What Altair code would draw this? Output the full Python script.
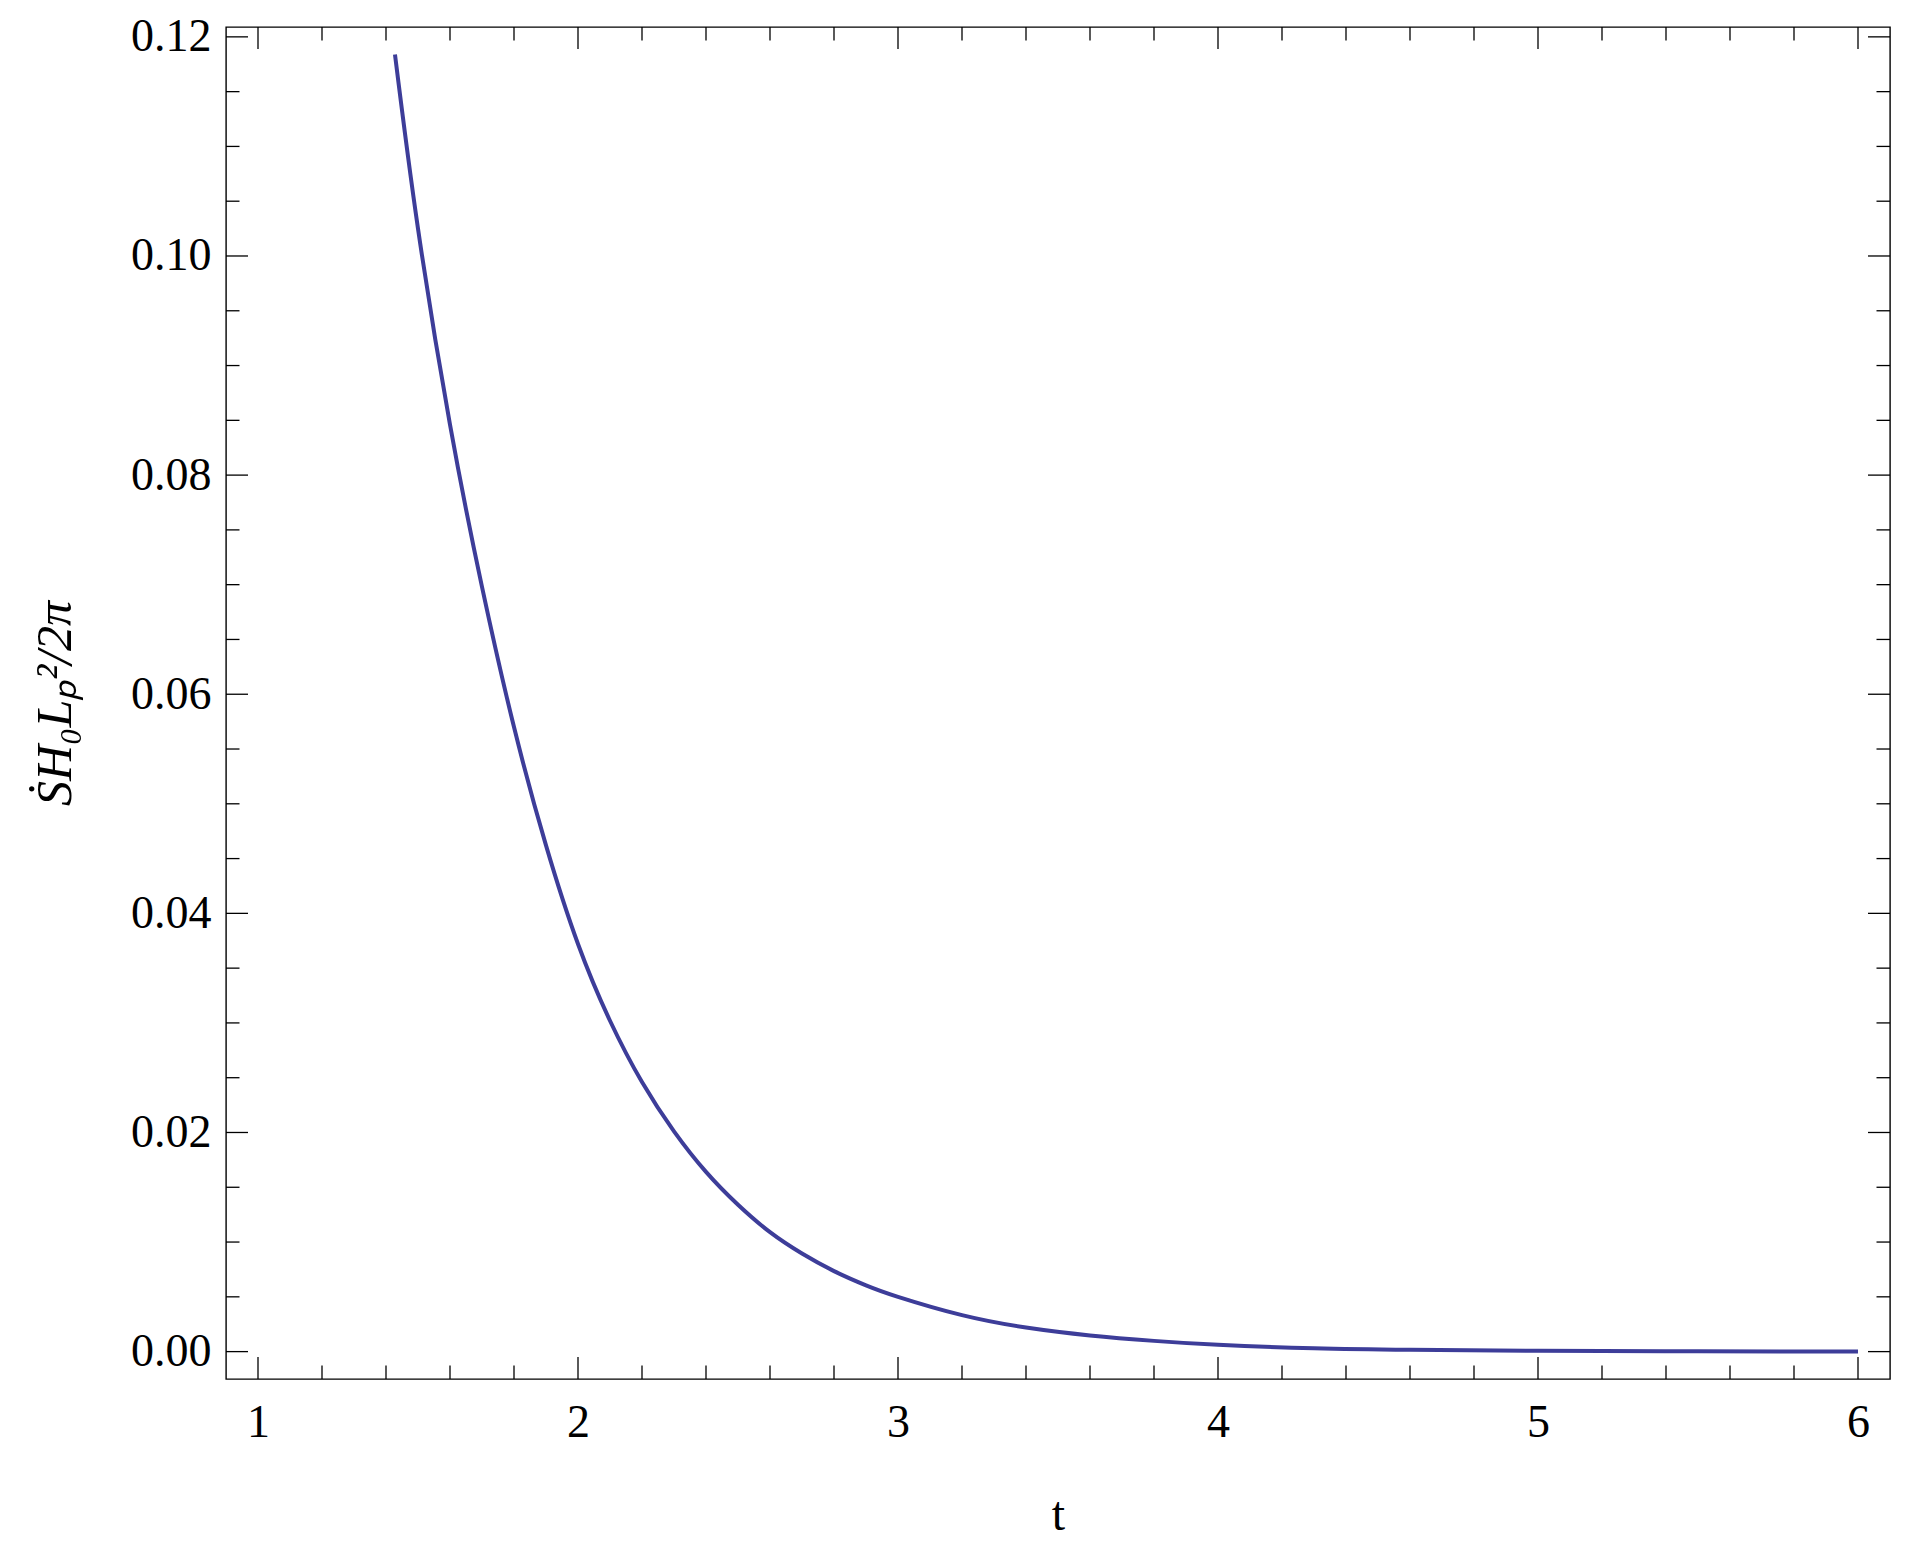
import altair as alt
import pandas as pd

# curve
t_vals = [1.428, 1.50, 1.60, 1.70, 1.80, 1.90, 2.00, 2.10, 2.20, 2.30, 2.40, 2.50,
          2.60, 2.70, 2.80, 2.90, 3.00, 3.20, 3.40, 3.60, 3.80, 4.00, 4.30, 4.60,
          5.00, 5.50, 6.00]
s_vals = [0.1184, 0.1025, 0.0846, 0.0698, 0.0570, 0.0462, 0.0372, 0.0302, 0.0246,
          0.0201, 0.0164, 0.0134, 0.0109, 0.00895, 0.00735, 0.00605, 0.00500,
          0.00333, 0.00220, 0.00148, 0.00098, 0.00062, 0.00031, 0.00017,
          0.00008, 0.00003, 0.00001]

x_major = [1, 2, 3, 4, 5, 6]
x_minor = [round(1 + 0.2 * i, 1) for i in range(26) if i % 5 != 0]
y_major = [0.0, 0.02, 0.04, 0.06, 0.08, 0.10, 0.12]
y_minor = [round(0.005 * i, 3) for i in range(25) if i % 4 != 0]

W, H = 1664, 1352
X_DOMAIN = [0.9, 6.1]
Y_DOMAIN = [-0.0025, 0.1209]
FONT = "Liberation Serif"

xs = alt.Scale(domain=X_DOMAIN, nice=False, zero=False)
ys = alt.Scale(domain=Y_DOMAIN, nice=False, zero=False)

X_AXIS = alt.Axis(
    values=x_major, format="d", ticks=False, tickSize=0, domain=False, grid=False,
    labelFont=FONT, labelFontSize=46, labelColor="black", labelPadding=21,
    labelFlush=False, labelOverlap=False,
    title="t", titleFont=FONT, titleFontSize=48, titleFontWeight="normal",
    titleColor="black", titleBaseline="alphabetic", titleX=W / 2, titleY=150,
    titleAlign="center")
Y_AXIS = alt.Axis(
    values=y_major, format=".2f", ticks=False, tickSize=0, domain=False, grid=False,
    labelFont=FONT, labelFontSize=46, labelColor="black", labelPadding=15,
    labelFlush=False, labelOverlap=False,
    title="ṠH₀Lₚ²/2π", titleFont=FONT, titleFontSize=50, titleFontStyle="italic",
    titleFontWeight="normal", titleColor="black", titleAngle=270,
    titleBaseline="alphabetic", titleAlign="center", titleX=-156, titleY=H / 2)

df = pd.DataFrame({"t": t_vals, "v": s_vals})

line = alt.Chart(df).mark_line(color="#3d3d99", strokeWidth=4, interpolate="natural", clip=True).encode(
    x=alt.X("t:Q", scale=xs, axis=X_AXIS),
    y=alt.Y("v:Q", scale=ys, axis=Y_AXIS),
)


def xticks(vals, y0, y1):
    return alt.Chart(pd.DataFrame({"t": vals})).mark_rule(color="black", strokeWidth=1.3).encode(
        x=alt.X("t:Q", scale=xs, axis=X_AXIS), y=alt.value(y0), y2=alt.value(y1))


def yticks(vals, x0, x1):
    return alt.Chart(pd.DataFrame({"v": vals})).mark_rule(color="black", strokeWidth=1.3).encode(
        y=alt.Y("v:Q", scale=ys, axis=Y_AXIS), x=alt.value(x0), x2=alt.value(x1))


MAJ, MIN = 22, 13.5
layers = [
    line,
    xticks(x_major, H, H - MAJ), xticks(x_minor, H, H - MIN),
    xticks(x_major, 0, MAJ), xticks(x_minor, 0, MIN),
    yticks(y_major, 0, MAJ), yticks(y_minor, 0, MIN),
    yticks(y_major, W, W - MAJ), yticks(y_minor, W, W - MIN),
]

chart = alt.layer(*layers).properties(
    width=W, height=H,
    autosize=alt.AutoSizeParams(type="none"),
    padding={"left": 218, "top": 19, "right": 10, "bottom": 160},
    background="white",
).configure_view(stroke="black", strokeWidth=1.4)

chart.save("out.html", embed_options={"renderer": "svg", "actions": False})
